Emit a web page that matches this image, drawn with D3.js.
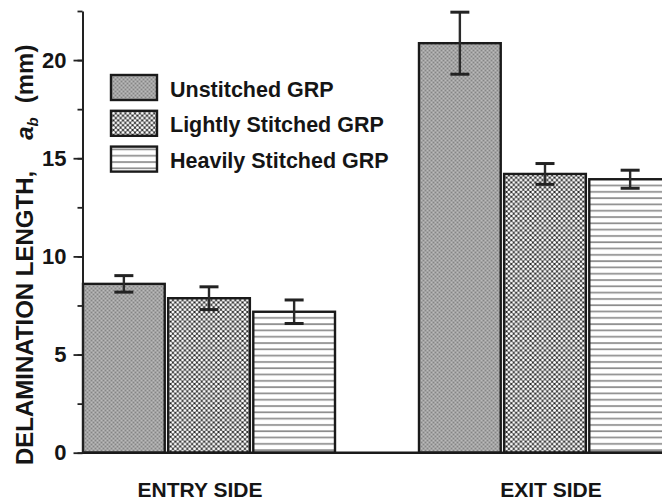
<!DOCTYPE html>
<html>
<head>
<meta charset="utf-8">
<script src="https://cdn.jsdelivr.net/npm/d3@7"></script>
<style>
  html, body { margin: 0; padding: 0; background: #fff; }
  svg { display: block; }
  text { font-family: "Liberation Sans", Arial, Helvetica, sans-serif; font-weight: bold; fill: #151515; }
</style>
</head>
<body>
<svg id="chart" width="662" height="501"></svg>
<script>
// Delamination length (mm) at the drill entry and exit sides
const groups = ["ENTRY SIDE", "EXIT SIDE"];
const series = ["Unstitched GRP", "Lightly Stitched GRP", "Heavily Stitched GRP"];
const entryValues = [8.6, 7.87, 7.18];
const entryErrors = [0.42, 0.58, 0.6];
const exitValues = [20.86, 14.2, 13.93];
const exitErrors = [1.58, 0.53, 0.46];
const yTicks = [0, 5, 10, 15, 20];
const yMinorTicks = [0, 2.5, 5, 7.5, 10, 12.5, 15, 17.5, 20, 22.5];

const valuesByGroup = [entryValues, exitValues];
const errorsByGroup = [entryErrors, exitErrors];
const rows = [];
groups.forEach((g, gi) => series.forEach((s, si) => rows.push({
  group: g, series: s, value: valuesByGroup[gi][si], error: errorsByGroup[gi][si]
})));

const W = 662, H = 501;
const svg = d3.select("#chart");

// fill textures
const defs = svg.append("defs");
const pUn = defs.append("pattern").attr("id", "fill-unstitched")
  .attr("patternUnits", "userSpaceOnUse").attr("width", 4).attr("height", 4);
pUn.append("rect").attr("width", 4).attr("height", 4).attr("fill", "#a3a3a3");
pUn.append("rect").attr("x", 0).attr("y", 0).attr("width", 1).attr("height", 1).attr("fill", "#858585");
pUn.append("rect").attr("x", 2).attr("y", 2).attr("width", 1).attr("height", 1).attr("fill", "#858585");
pUn.append("rect").attr("x", 2).attr("y", 0).attr("width", 1).attr("height", 1).attr("fill", "#bababa");
pUn.append("rect").attr("x", 0).attr("y", 2).attr("width", 1).attr("height", 1).attr("fill", "#bababa");

const cell = 4.8;
const pLi = defs.append("pattern").attr("id", "fill-light")
  .attr("patternUnits", "userSpaceOnUse").attr("width", cell).attr("height", cell);
pLi.append("rect").attr("width", cell).attr("height", cell).attr("fill", "#222");
[[0, 0], [cell, 0], [0, cell], [cell, cell], [cell / 2, cell / 2]].forEach(([cx, cy]) =>
  pLi.append("circle").attr("cx", cx).attr("cy", cy).attr("r", 1.5).attr("fill", "#fff"));

const pHe = defs.append("pattern").attr("id", "fill-heavy")
  .attr("patternUnits", "userSpaceOnUse").attr("width", 8).attr("height", 6.3);
pHe.append("rect").attr("width", 8).attr("height", 6.3).attr("fill", "#fff");
pHe.append("rect").attr("y", 2).attr("width", 8).attr("height", 1.7).attr("fill", "#8c8c8c");

const fills = d3.scaleOrdinal().domain(series)
  .range(["url(#fill-unstitched)", "url(#fill-light)", "url(#fill-heavy)"]);

// scales
const y = d3.scaleLinear().domain([0, 22.5]).range([452.7, 11]);
const x0 = d3.scaleBand().domain(groups).range([83, 671]).paddingInner(0.25).paddingOuter(0);
const x1 = d3.scaleBand().domain(series).range([0, 252]).paddingInner(0.04).paddingOuter(0);

// bars
const bars = svg.append("g").selectAll("g.bar").data(rows).join("g")
  .attr("class", "bar")
  .attr("transform", d => `translate(${x0(d.group) + x1(d.series)},0)`);

bars.append("rect")
  .attr("x", 0)
  .attr("y", d => y(d.value))
  .attr("width", x1.bandwidth())
  .attr("height", d => y(0) - y(d.value))
  .attr("fill", d => fills(d.series))
  .attr("stroke", "#1a1a1a")
  .attr("stroke-width", 2.4);

// error bars
const capW = 19;
const cx = x1.bandwidth() / 2;
bars.append("line")
  .attr("x1", cx).attr("x2", cx)
  .attr("y1", d => y(d.value + d.error))
  .attr("y2", d => y(d.value - d.error))
  .attr("stroke", "#2a2a2a").attr("stroke-width", 2.4);
bars.append("line")
  .attr("x1", cx - capW / 2).attr("x2", cx + capW / 2)
  .attr("y1", d => y(d.value + d.error)).attr("y2", d => y(d.value + d.error))
  .attr("stroke", "#222").attr("stroke-width", 3);
bars.append("line")
  .attr("x1", cx - capW / 2).attr("x2", cx + capW / 2)
  .attr("y1", d => y(d.value - d.error)).attr("y2", d => y(d.value - d.error))
  .attr("stroke", "#222").attr("stroke-width", 3);

// baseline
svg.append("line")
  .attr("x1", 82).attr("x2", W)
  .attr("y1", y(0)).attr("y2", y(0))
  .attr("stroke", "#1a1a1a").attr("stroke-width", 2.6);

// y axis
const axisG = svg.append("g").attr("transform", "translate(82.5,0)");
axisG.call(d3.axisLeft(y).tickValues(yMinorTicks).tickSize(5).tickSizeOuter(0).tickFormat(""));
axisG.call(g => g.selectAll(".tick line").attr("stroke", "#222").attr("stroke-width", 1.8));
axisG.select(".domain").attr("stroke", "#222").attr("stroke-width", 2);
const majorG = svg.append("g").attr("transform", "translate(82.5,0)");
majorG.call(d3.axisLeft(y).tickValues(yTicks).tickSize(9).tickPadding(7).tickSizeOuter(0));
majorG.select(".domain").remove();
majorG.selectAll(".tick line").attr("stroke", "#222").attr("stroke-width", 1.8);
majorG.selectAll(".tick text")
  .attr("font-size", 22)
  .attr("font-family", "'Liberation Sans Narrow', 'Liberation Sans', Arial, sans-serif")
  .attr("font-weight", "bold")
  .attr("fill", "#151515");

// category labels
svg.append("g").selectAll("text").data(groups).join("text")
  .attr("x", (d, i) => x0(d) + x0.bandwidth() / 2 + (i === 0 ? -9 : 6))
  .attr("y", 497)
  .attr("text-anchor", "middle")
  .attr("font-size", 21)
  .text(d => d);

// y axis title
const title = svg.append("text")
  .attr("transform", "translate(33,465) rotate(-90)")
  .attr("text-anchor", "start")
  .attr("font-size", 24);
title.append("tspan").text("DELAMINATION LENGTH,");
title.append("tspan").attr("dx", 31).attr("font-style", "italic").text("a");
title.append("tspan").attr("dy", 5).attr("font-size", 15).attr("font-style", "italic").text("b");
title.append("tspan").attr("dy", -5).attr("dx", 14).text("(mm)");

// legend
const legend = svg.append("g").selectAll("g").data(series).join("g")
  .attr("transform", (d, i) => `translate(111,${75 + i * 35.8})`);
legend.append("rect")
  .attr("width", 46).attr("height", 25)
  .attr("fill", d => fills(d))
  .attr("stroke", "#1a1a1a").attr("stroke-width", 2.4);
legend.append("text")
  .attr("x", 59).attr("y", 21.5)
  .attr("font-size", 21.5)
  .text(d => d);
</script>
</body>
</html>
